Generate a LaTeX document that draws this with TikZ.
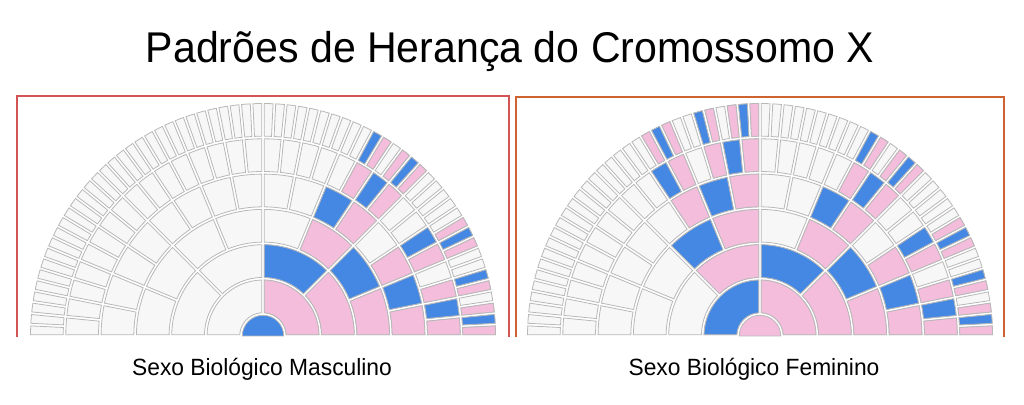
\documentclass[tikz,border=0pt]{standalone}
\usepackage{fontspec}
\setmainfont{Liberation Sans}
\definecolor{xblue}{RGB}{68,136,228}
\definecolor{xpink}{RGB}{244,189,220}
\definecolor{xwhite}{RGB}{247,247,247}
\definecolor{xline}{RGB}{184,184,184}
\definecolor{framem}{RGB}{212,84,84}
\definecolor{framef}{RGB}{206,98,48}
\newcommand\rzero{22}
\newcommand\rw{35.3}
\newcommand\gp{1.3}
\tikzset{
  cellline/.style={draw=xline, line width=0.8pt},
  framebox/.style={line width=2pt},
  titletext/.style={font=\fontsize{43}{47}\selectfont, inner sep=0pt},
  captext/.style={font=\fontsize{23.5}{27}\selectfont, inner sep=0pt},
}
% #1 ring, #2 index, #3 fill colour
\newcommand\fancell[3]{%
  \pgfmathsetmacro\nn{2^(#1)}%
  \pgfmathsetmacro\ahi{180-(#2)*180/\nn}%
  \pgfmathsetmacro\alo{180-((#2)+1)*180/\nn}%
  \pgfmathsetmacro\rin{\rzero+((#1)-1)*\rw+\gp}%
  \pgfmathsetmacro\rout{\rzero+(#1)*\rw-\gp}%
  \pgfmathsetmacro\dai{asin(\gp/\rin)}%
  \pgfmathsetmacro\dao{asin(\gp/\rout)}%
  \pgfmathsetmacro\aa{\ahi-\dai}%
  \pgfmathsetmacro\ab{\ahi-\dao}%
  \pgfmathsetmacro\ac{\alo+\dao}%
  \pgfmathsetmacro\ad{\alo+\dai}%
  \filldraw[cellline, fill=#3] (\aa:\rin pt) -- (\ab:\rout pt)
     arc[start angle=\ab, end angle=\ac, radius=\rout pt]
     -- (\ad:\rin pt)
     arc[start angle=\ad, end angle=\aa, radius=\rin pt] -- cycle;%
}
\newcommand\colring[2]{%
  \foreach \i in {#2} {%
    \ifodd\i\relax \fancell{#1}{\i}{xpink}\else \fancell{#1}{\i}{xblue}\fi
  }%
}
\newcommand\basefan{%
  \foreach \k in {1,...,6} {%
    \pgfmathtruncatemacro\nmax{2^\k-1}%
    \foreach \i in {0,...,\nmax} {\fancell{\k}{\i}{xwhite}}%
  }%
}
\newcommand\centercell[1]{%
  \pgfmathsetmacro\rc{\rzero-\gp}%
  \filldraw[cellline, fill=#1] (0:\rc pt) arc[start angle=0, end angle=180, radius=\rc pt] -- cycle;%
}
\begin{document}
\begin{tikzpicture}[x=1pt,y=1pt]
\useasboundingbox (0,0) rectangle (1024,404);
\fill[white] (0,0) rectangle (1024,404);

% frames (open at the bottom)
\draw[framebox, draw=framem] (17,67) -- (17,308) -- (509,308) -- (509,67);
\draw[framebox, draw=framef] (516,67) -- (516,307) -- (1004,307) -- (1004,67);

% male fan chart
\begin{scope}[shift={(263,68)}]
  \basefan
  \centercell{xblue}
  \colring{1}{1}
  \colring{2}{2,3}
  \colring{3}{5,6,7}
  \colring{4}{10,11,13,14,15}
  \colring{5}{21,22,23,26,27,29,30,31}
  \colring{6}{42,43,45,46,47,53,54,55,58,59,61,62,63}
\end{scope}

% female fan chart
\begin{scope}[shift={(760,68)}]
  \basefan
  \centercell{xpink}
  \colring{1}{0,1}
  \colring{2}{1,2,3}
  \colring{3}{2,3,5,6,7}
  \colring{4}{5,6,7,10,11,13,14,15}
  \colring{5}{10,11,13,14,15,21,22,23,26,27,29,30,31}
  \colring{6}{21,22,23,26,27,29,30,31,42,43,45,46,47,53,54,55,58,59,61,62,63}
\end{scope}

\node[titletext] (title) at (510,353) {\scalebox{0.955}[1]{Padrões de Herança do Cromossomo X}};
\node[captext] (capm) at (262,35) {\scalebox{0.97}[1]{Sexo Biológico Masculino}};
\node[captext] (capf) at (754,35) {\scalebox{0.97}[1]{Sexo Biológico Feminino}};
\end{tikzpicture}
\end{document}
